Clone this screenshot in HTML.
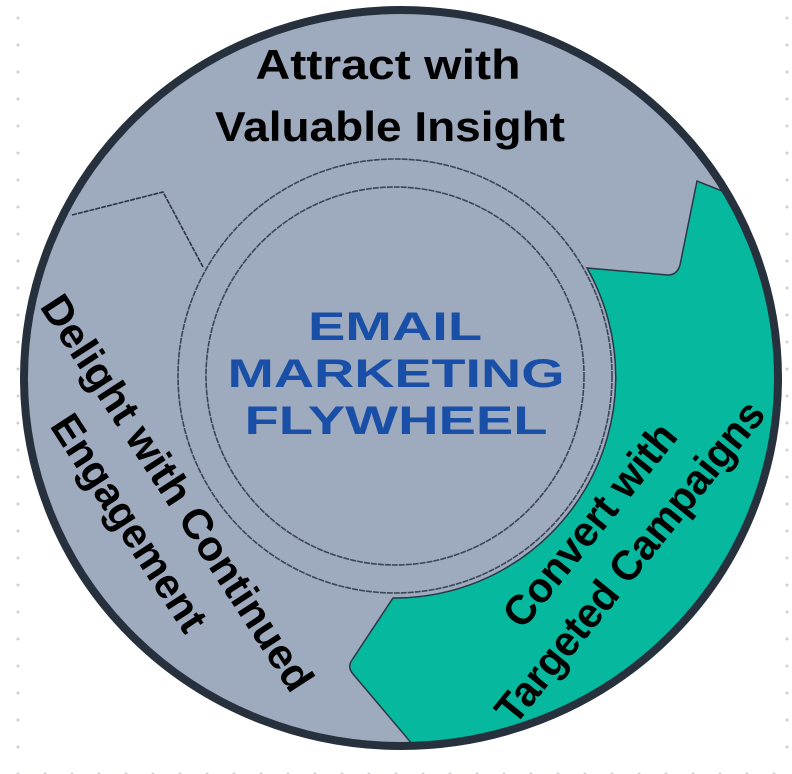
<!DOCTYPE html>
<html><head><meta charset="utf-8"><style>
html,body{margin:0;padding:0;background:#fff;}
svg{display:block;}
</style></head><body>
<svg width="792" height="774" viewBox="0 0 792 774" xmlns="http://www.w3.org/2000/svg">
<defs>
<pattern id="dv" x="16" y="16" width="27" height="27" patternUnits="userSpaceOnUse"><circle cx="2" cy="2" r="1.5" fill="#cfd0d6"/></pattern>
<pattern id="dr" x="785" y="16" width="27" height="27" patternUnits="userSpaceOnUse"><circle cx="2" cy="2" r="1.5" fill="#cfd0d6"/></pattern>
<clipPath id="cl"><ellipse cx="401" cy="378" rx="378" ry="369"/></clipPath>
</defs>
<rect x="14" y="10" width="8" height="760" fill="url(#dv)"/>
<rect x="783" y="10" width="8" height="760" fill="url(#dr)"/>
<rect x="14" y="767" width="778" height="7" fill="url(#dv)"/>
<ellipse cx="401" cy="378" rx="377" ry="368" fill="#9eaabe"/>
<g clip-path="url(#cl)">
<path d="M820,230 L697,181 L680,265 Q677,275 668,275 L587,268 A221 221 0 0 1 393,598 L352,660 Q347,667 353,674 L413,745 L440,800 L820,800 Z" fill="#05b89e" stroke="#2b3644" stroke-width="1.5"/>
</g>
<polyline points="72,215 163,192 203,267" fill="none" stroke="#2b3644" stroke-width="1.6" stroke-dasharray="5 1"/>
<circle cx="395" cy="376" r="217" fill="none" stroke="#3a4656" stroke-width="1.6" stroke-dasharray="6 1"/>
<circle cx="395" cy="376" r="189" fill="none" stroke="#3a4656" stroke-width="1.6" stroke-dasharray="6 1"/>
<ellipse cx="401" cy="378" rx="377" ry="368" fill="none" stroke="#27313e" stroke-width="8"/>
<g font-family="Liberation Sans, sans-serif" font-weight="bold" fill="#000" text-anchor="middle" font-size="42">
<text x="388" y="79" textLength="265" lengthAdjust="spacingAndGlyphs">Attract with</text>
<text x="390" y="141" textLength="350" lengthAdjust="spacingAndGlyphs">Valuable Insight</text>
<g transform="translate(177,493) rotate(57)"><text x="0" y="14" textLength="463" lengthAdjust="spacingAndGlyphs">Delight with Continued</text></g>
<g transform="translate(129,523) rotate(57)"><text x="0" y="14" textLength="250" lengthAdjust="spacingAndGlyphs">Engagement</text></g>
<g transform="translate(590,525) rotate(-51)"><text x="0" y="14" textLength="249" lengthAdjust="spacingAndGlyphs">Convert with</text></g>
<g transform="translate(630,562) rotate(-51)"><text x="0" y="14" textLength="401" lengthAdjust="spacingAndGlyphs">Targeted Campaigns</text></g>
</g>
<g font-family="Liberation Sans, sans-serif" font-weight="bold" fill="#1a4fa8" text-anchor="middle" font-size="40">
<text x="395" y="340" textLength="174" lengthAdjust="spacingAndGlyphs">EMAIL</text>
<text x="396" y="387" textLength="337" lengthAdjust="spacingAndGlyphs">MARKETING</text>
<text x="396" y="434" textLength="303" lengthAdjust="spacingAndGlyphs">FLYWHEEL</text>
</g>
</svg>
</body></html>
